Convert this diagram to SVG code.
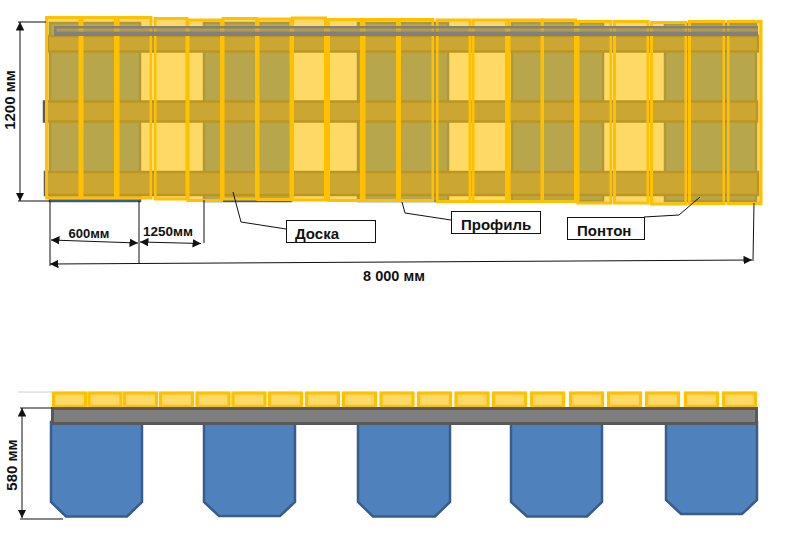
<svg xmlns="http://www.w3.org/2000/svg" width="803" height="535" viewBox="0 0 803 535">
<style>
.pon{fill:#4F81BD;stroke:#385D8A;stroke-width:2.5}
.prof{fill:#7F7F7F;stroke:#595959;stroke-width:2.5}
.pl{fill:#FFC000;fill-opacity:.6;stroke:#FFC000;stroke-width:3}
.spl{fill:#FFD966;stroke:#FFC000;stroke-width:3.2}
.ln{fill:none;stroke:#111;stroke-width:1}
.dim{fill:none;stroke:#111;stroke-width:1;marker-start:url(#a);marker-end:url(#a)}
.box{fill:#fff;stroke:#111;stroke-width:1}
text{font-family:"Liberation Sans",Arial,sans-serif;font-weight:700;fill:#111}
</style>
<defs>
<marker id="a" viewBox="0 0 10 10" refX="10" refY="5" markerWidth="8.5" markerHeight="8.5" markerUnits="userSpaceOnUse" orient="auto-start-reverse"><path d="M0 0L10 5L0 10Z" fill="#111"/></marker>
</defs>
<g id="top-view">
<g id="top-pontons">
<rect class="pon" x="50" y="23" width="90" height="178"/>
<rect class="pon" x="204" y="23" width="87" height="178"/>
<rect class="pon" x="358" y="23" width="90" height="178"/>
<rect class="pon" x="512" y="23" width="91" height="178"/>
<rect class="pon" x="665" y="24" width="91" height="177"/>
</g>
<g id="top-profiles">
<rect class="prof" x="48" y="36" width="710" height="15.500"/>
<rect class="prof" x="44" y="101.500" width="713" height="20"/>
<rect class="prof" x="45" y="172" width="713" height="23"/>
<rect x="54" y="28" width="704" height="4" fill="#7F7F7F"/>
</g>
<g id="top-planks">
<rect class="pl" x="46.500" y="17.500" width="33.500" height="180.500"/>
<rect class="pl" x="82" y="17.500" width="33.500" height="180.500"/>
<rect class="pl" x="118" y="17.500" width="33" height="180.500"/>
<rect class="pl" x="155" y="18.500" width="32" height="180.500"/>
<rect class="pl" x="188" y="20" width="33.500" height="180.500"/>
<rect class="pl" x="223" y="18.500" width="33.500" height="180.500"/>
<rect class="pl" x="258" y="19" width="33" height="180.500"/>
<rect class="pl" x="292.500" y="18" width="33" height="182"/>
<rect class="pl" x="328.500" y="19.500" width="33" height="181"/>
<rect class="pl" x="364" y="19.500" width="33.500" height="181"/>
<rect class="pl" x="399.500" y="19.500" width="33.500" height="181"/>
<rect class="pl" x="437" y="20" width="33" height="181.500"/>
<rect class="pl" x="473" y="20" width="33.500" height="181.500"/>
<rect class="pl" x="509" y="20" width="33" height="181.500"/>
<rect class="pl" x="542.500" y="20" width="33" height="181.500"/>
<rect class="pl" x="578" y="21.500" width="33" height="181.500"/>
<rect class="pl" x="614.500" y="21.500" width="33.500" height="181.500"/>
<rect class="pl" x="651.500" y="22.500" width="34.500" height="181.500"/>
<rect class="pl" x="689.500" y="21.500" width="34.500" height="182"/>
<rect class="pl" x="728" y="21.500" width="33" height="182"/>
</g>
<g id="top-rail">
<rect x="54" y="26" width="704" height="2.500" fill="#808080"/>
<rect x="54" y="28.500" width="704" height="3" fill="#808080" fill-opacity=".35"/>
<rect x="54" y="31.500" width="704" height="4.500" fill="#808080"/>
<rect x="54" y="26" width="2.500" height="10" fill="#808080"/>
</g>
</g>
<g id="side-view">
<g id="side-planks">
<rect class="spl" x="53.500" y="393" width="32" height="13.500"/>
<rect class="spl" x="89" y="393" width="32" height="13.500"/>
<rect class="spl" x="124.500" y="393" width="32" height="13.500"/>
<rect class="spl" x="160.500" y="393" width="32" height="13.500"/>
<rect class="spl" x="197" y="393" width="32" height="13.500"/>
<rect class="spl" x="233" y="393" width="32" height="13.500"/>
<rect class="spl" x="269.500" y="393" width="32" height="13.500"/>
<rect class="spl" x="306.500" y="393" width="32" height="13.500"/>
<rect class="spl" x="343.500" y="393" width="32" height="13.500"/>
<rect class="spl" x="381" y="393" width="32" height="13.500"/>
<rect class="spl" x="418.500" y="393" width="32" height="13.500"/>
<rect class="spl" x="456" y="393" width="32" height="13.500"/>
<rect class="spl" x="493.500" y="393" width="32" height="13.500"/>
<rect class="spl" x="531.500" y="393" width="32" height="13.500"/>
<rect class="spl" x="570.500" y="393" width="32" height="13.500"/>
<rect class="spl" x="608.500" y="393" width="32" height="13.500"/>
<rect class="spl" x="646.500" y="393" width="32" height="13.500"/>
<rect class="spl" x="685.500" y="393" width="32" height="13.500"/>
<rect class="spl" x="723.500" y="393" width="32" height="13.500"/>
</g>
<g id="side-pontons">
<path class="pon" d="M51 422H142V502L127 516.500H66L51 502Z"/>
<path class="pon" d="M204 422H295V502L280 516H219L204 502Z"/>
<path class="pon" d="M358 422H450V502L435 516.500H373L358 502Z"/>
<path class="pon" d="M511 422H602V502L587 516.500H527L511 502Z"/>
<path class="pon" d="M666 422H757V500L742 514H681L666 500Z"/>
</g>
<rect id="side-profile" x="52.500" y="408.500" width="704" height="15" fill="#7F7F7F" stroke="#595959" stroke-width="3"/>
</g>
<g id="connectors">
<path class="ln" d="M18 22H46M18 201H50M50 201V266M139 201V264M204 200V243M754 203L753 261"/>
<path class="dim" d="M20 22V201"/>
<path class="dim" d="M51 240L138 243"/>
<path class="dim" d="M140 242L201 243.500"/>
<path class="dim" d="M50 264L752 260"/>
<path class="ln" d="M20 408H52M20 519H63"/>
<path d="M18 392H52" fill="none" stroke="#ccc" stroke-width="1"/>
<path class="dim" d="M22 408V518"/>
<path class="ln" d="M233 192L241 222L286 229"/>
<path class="ln" d="M402 202L405 213L451 220"/>
<path class="ln" d="M700 197L679 215L644 217"/>
</g>
<g id="label-doska"><rect class="box" x="286.500" y="220.500" width="89" height="22"/><text x="295" y="239" font-size="15">Доска</text></g>
<g id="label-profil"><rect class="box" x="451.500" y="211.500" width="89" height="22"/><text x="461" y="230" font-size="15">Профиль</text></g>
<g id="label-ponton"><rect class="box" x="567.500" y="217.500" width="77" height="22"/><text x="577" y="236" font-size="15">Понтон</text></g>
<g id="dimension-labels">
<text x="89" y="238" font-size="13" text-anchor="middle">600мм</text>
<text x="168" y="236" font-size="13.500" text-anchor="middle">1250мм</text>
<text x="394" y="281" font-size="14.500" text-anchor="middle">8 000 мм</text>
<text transform="translate(15 100) rotate(-90)" font-size="15" text-anchor="middle">1200 мм</text>
<text transform="translate(17 465) rotate(-90)" font-size="15" text-anchor="middle">580 мм</text>
</g>
</svg>
